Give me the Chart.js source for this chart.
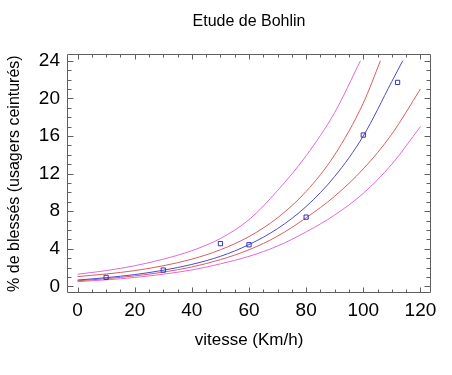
<!DOCTYPE html>
<html lang="fr">
<head>
<meta charset="utf-8">
<title>Etude de Bohlin</title>
<script src="https://cdn.jsdelivr.net/npm/chart.js@4"></script>
<style>
  html, body { margin: 0; padding: 0; background: #fff; }
  #wrap { width: 452px; height: 375px; }
</style>
</head>
<body>
<div id="wrap"><canvas id="bohlin"></canvas></div>
<script>
// measured points : vitesse (Km/h) / % de blessés
const pointsX = [10, 30, 50, 60, 80, 100, 112];
const pointsY = [0.96, 1.74, 4.55, 4.43, 7.37, 16.1, 21.7];

// fitted curve + bands
const fitX = [0, 10, 20, 30, 40, 50, 60, 70, 80, 90, 100, 110, 113.8];
const fitY = [0.68, 0.93, 1.26, 1.72, 2.34, 3.2, 4.45, 6.15, 8.5, 11.7, 16.0, 21.8, 24];

const upper1X = [0, 10, 20, 30, 40, 50, 60, 70, 80, 90, 100, 106];
const upper1Y = [1.05, 1.32, 1.68, 2.2, 2.9, 3.9, 5.3, 7.3, 10.1, 14.0, 19.5, 24];
const lower1X = [0, 10, 20, 30, 40, 50, 60, 70, 80, 90, 100, 110, 120];
const lower1Y = [0.6, 0.82, 1.12, 1.52, 2.07, 2.85, 3.9, 5.35, 7.3, 9.6, 12.5, 16.2, 21.0];

const upper2X = [0, 10, 20, 30, 40, 50, 60, 70, 80, 90, 99];
const upper2Y = [1.3, 1.68, 2.2, 2.9, 3.8, 5.1, 7.1, 10.2, 13.9, 18.5, 24];
const lower2X = [0, 10, 20, 30, 40, 50, 60, 70, 80, 90, 100, 110, 120];
const lower2Y = [0.5, 0.7, 0.95, 1.3, 1.75, 2.4, 3.2, 4.3, 5.8, 7.6, 9.9, 13.0, 17.0];

const xTicks = [0, 20, 40, 60, 80, 100, 120];
const yTicks = [0, 4, 8, 12, 16, 20, 24];

const xMinor = [];
for (let v = 0; v <= 120; v += 5) xMinor.push(v);
const yMinor = [];
for (let v = 0; v <= 24; v += 1) yMinor.push(v);

const pair = (xs, ys) => xs.map((v, i) => ({x: v, y: ys[i]}));

const PINK = '#e468dc';
const RED = '#da5e5e';
const BLUE = '#4a4ad0';
const FONT = 'Liberation Sans, Arial, sans-serif';

function curve(xs, ys, color) {
  return {
    type: 'line',
    data: pair(xs, ys),
    borderColor: color,
    borderWidth: 1,
    pointRadius: 0,
    cubicInterpolationMode: 'monotone',
    fill: false
  };
}

// box round the plot, with inward ticks on all four sides
const frameTicks = {
  id: 'frameTicks',
  afterLayout(chart) {
    // centre the title over the plot, not over the whole canvas
    if (chart.titleBlock) {
      chart.titleBlock.left = chart.chartArea.left;
      chart.titleBlock.right = chart.chartArea.right;
    }
  },
  afterDraw(chart) {
    const {ctx, chartArea: a, scales: {x, y}} = chart;
    const L = Math.round(a.left) + 0.5, R = Math.round(a.right) - 0.5;
    const T = Math.round(a.top) + 0.5, B = Math.round(a.bottom) - 0.5;
    ctx.save();
    ctx.strokeStyle = '#606060';
    ctx.lineWidth = 1;
    ctx.beginPath();
    xMinor.forEach(v => {
      const px = Math.round(x.getPixelForValue(v)) + 0.5;
      const len = xTicks.includes(v) ? 5 : 3;
      ctx.moveTo(px, B); ctx.lineTo(px, B - len);
      ctx.moveTo(px, T); ctx.lineTo(px, T + len);
    });
    yMinor.forEach(v => {
      const py = Math.round(y.getPixelForValue(v)) + 0.5;
      const len = yTicks.includes(v) ? 6 : 4;
      ctx.moveTo(L, py); ctx.lineTo(L + len, py);
      ctx.moveTo(R, py); ctx.lineTo(R - len, py);
    });
    ctx.rect(L, T, R - L, B - T);
    ctx.stroke();
    ctx.restore();
  }
};

new Chart(document.getElementById('bohlin'), {
  type: 'scatter',
  data: {
    datasets: [
      {
        data: pair(pointsX, pointsY),
        pointStyle: 'rect',
        pointRadius: 3,
        borderColor: '#3333bb',
        backgroundColor: 'rgba(0,0,0,0)',
        borderWidth: 1
      },
      curve(fitX, fitY, BLUE),
      curve(upper1X, upper1Y, RED),
      curve(lower1X, lower1Y, RED),
      curve(upper2X, upper2Y, PINK),
      curve(lower2X, lower2Y, PINK)
    ]
  },
  options: {
    responsive: true,
    maintainAspectRatio: false,
    animation: false,
    layout: { padding: { left: 0, right: 21, top: 0, bottom: 0 } },
    plugins: {
      legend: { display: false },
      tooltip: { enabled: false },
      title: {
        display: true,
        text: 'Etude de Bohlin',
        color: '#000',
        font: { family: FONT, size: 16, weight: 'normal' },
        padding: { top: 12, bottom: 23 }
      }
    },
    scales: {
      x: {
        type: 'linear',
        min: -3.7,
        max: 123.7,
        grid: { display: false, drawTicks: false },
        border: { display: false },
        ticks: { color: '#000', font: { family: FONT, size: 19 }, padding: 6 },
        afterBuildTicks: s => { s.ticks = xTicks.map(v => ({value: v})); },
        afterFit: s => {
          s.height = 82;
          s.paddingLeft = 0; s.paddingRight = 0;
        },
        title: {
          display: true,
          text: 'vitesse (Km/h)',
          color: '#000',
          font: { family: FONT, size: 17 },
          padding: { top: 0, bottom: 24 }
        }
      },
      y: {
        type: 'linear',
        min: -0.7,
        max: 24.7,
        grid: { display: false, drawTicks: false },
        border: { display: false },
        ticks: { color: '#000', font: { family: FONT, size: 19 }, padding: 7 },
        afterBuildTicks: s => { s.ticks = yTicks.map(v => ({value: v})); },
        afterFit: s => {
          s.width = 67;
          s.paddingTop = 0; s.paddingBottom = 0;
        },
        title: {
          display: true,
          text: '% de blessés (usagers ceinturés)',
          color: '#000',
          font: { family: FONT, size: 16 },
          padding: { top: 5, bottom: 0 }
        }
      }
    }
  },
  plugins: [frameTicks]
});
</script>
</body>
</html>
